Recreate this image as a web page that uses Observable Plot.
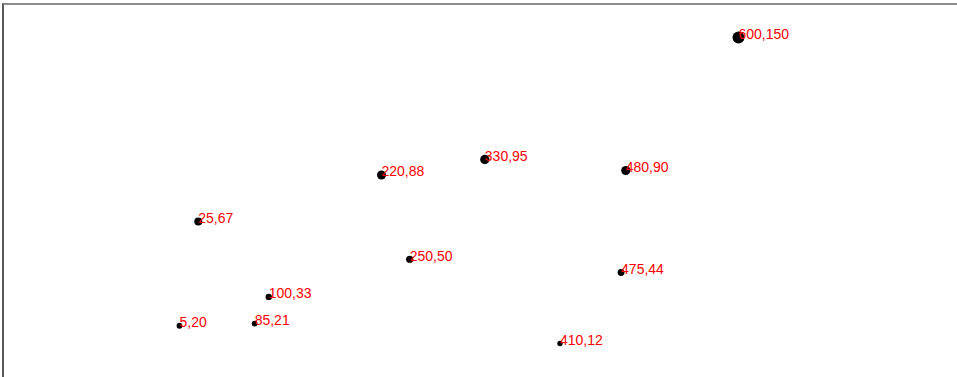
<!DOCTYPE html>
<html>
<head>
<meta charset="utf-8">
<script src="https://cdn.jsdelivr.net/npm/d3@7"></script>
<script src="https://cdn.jsdelivr.net/npm/@observablehq/plot@0.6"></script>
<style>
  html, body { margin: 0; padding: 0; background: #fff; overflow: hidden; }
  #frame {
    position: absolute; left: 2px; top: 3px; width: 1000px; height: 400px;
    border-top: 2px solid #8c8c8c; border-left: 2px solid #5a5a5a;
    box-sizing: border-box;
  }
  #chart { position: absolute; left: 0; top: 0; }
</style>
</head>
<body>
<div id="frame"></div>
<div id="chart"></div>
<script>
const xs = [5, 480, 250, 100, 330, 410, 475, 25, 85, 220, 600];
const ys = [20, 90, 50, 33, 95, 12, 44, 67, 21, 88, 150];
const data = xs.map((x, i) => ({x, y: ys[i], label: x + "," + ys[i]}));

const chart = Plot.plot({
  width: 957,
  height: 377,
  x: {domain: [0, 600], range: [174.3, 738], axis: null},
  y: {domain: [0, 150], range: [369.6, 37], axis: null},
  r: {type: "linear", domain: [0, 150], range: [2.4, 6]},
  style: {background: "transparent", overflow: "visible"},
  marks: [
    Plot.dot(data, {x: "x", y: "y", r: "y", fill: "black", stroke: "none"}),
    Plot.text(data, {
      x: "x", y: "y", text: "label",
      textAnchor: "start", lineAnchor: "bottom", dy: 1.5,
      fill: "red", fontSize: 14,
      fontFamily: "'Liberation Sans', Arial, Helvetica, sans-serif"
    })
  ]
});
document.getElementById("chart").appendChild(chart);
</script>
</body>
</html>
